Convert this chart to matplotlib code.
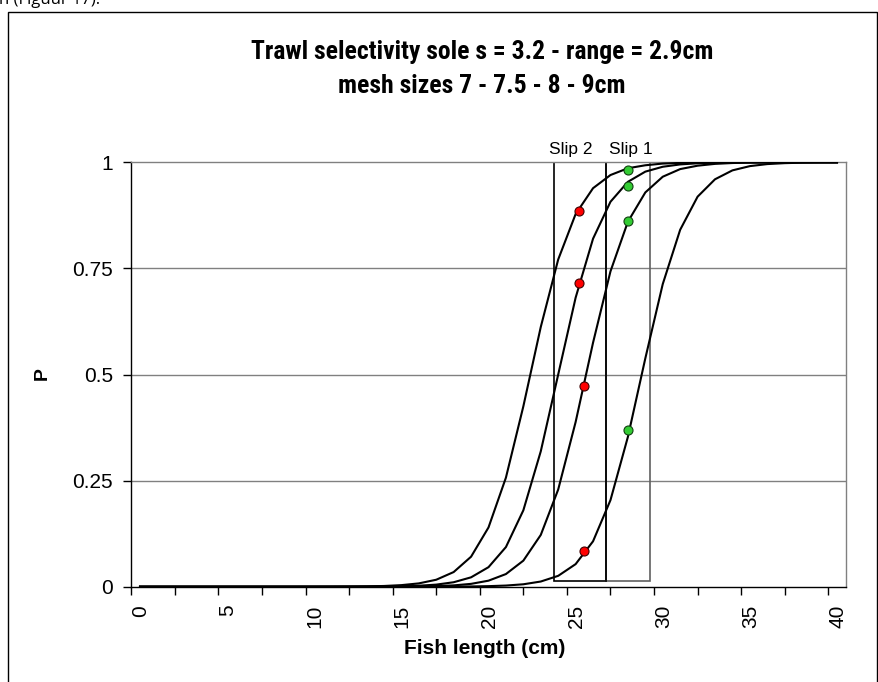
import matplotlib
matplotlib.use("Agg")
import matplotlib.pyplot as plt
from matplotlib.patches import Rectangle
from matplotlib import font_manager

plt.rcParams['font.family'] = ['Liberation Sans', 'DejaVu Sans']

# Fish length classes (cm)
lengths = list(range(0, 41))

# Retention probability per length class for each mesh size
p_mesh7 = [0.0, 0.0, 0.0, 0.0, 0.0, 0.0, 0.0, 0.0, 0.0, 0.0,
           0.0001, 0.0002, 0.0004, 0.0008, 0.0017, 0.0037, 0.0078, 0.0164, 0.0345, 0.0707,
           0.1396, 0.257, 0.425, 0.612, 0.771, 0.878, 0.939, 0.970, 0.986, 0.993,
           0.997, 0.9985, 0.9993, 0.9997, 0.9999, 1.0, 1.0, 1.0, 1.0, 1.0, 1.0]
p_mesh75 = [0.0, 0.0, 0.0, 0.0, 0.0, 0.0, 0.0, 0.0, 0.0, 0.0,
            0.0, 0.0, 0.0001, 0.0002, 0.0005, 0.0011, 0.0023, 0.0049, 0.0105, 0.0221,
            0.046, 0.0934, 0.180, 0.319, 0.5, 0.681, 0.820, 0.907, 0.954, 0.978,
            0.9895, 0.995, 0.9977, 0.9989, 0.9995, 0.9998, 0.9999, 1.0, 1.0, 1.0, 1.0]
p_mesh8 = [0.0, 0.0, 0.0, 0.0, 0.0, 0.0, 0.0, 0.0, 0.0, 0.0,
           0.0, 0.0, 0.0, 0.0, 0.0002, 0.0003, 0.0007, 0.0015, 0.0031, 0.0067,
           0.0142, 0.0298, 0.0614, 0.122, 0.229, 0.388, 0.575, 0.743, 0.860, 0.929,
           0.966, 0.984, 0.992, 0.9963, 0.9983, 0.9992, 0.9996, 0.9998, 0.9999, 1.0, 1.0]
p_mesh9 = [0.0, 0.0, 0.0, 0.0, 0.0, 0.0, 0.0, 0.0, 0.0, 0.0,
           0.0, 0.0, 0.0, 0.0, 0.0, 0.0, 0.0001, 0.0001, 0.0003, 0.0006,
           0.0013, 0.0027, 0.0057, 0.0122, 0.0256, 0.0532, 0.107, 0.204, 0.353, 0.538,
           0.713, 0.841, 0.919, 0.960, 0.981, 0.991, 0.9958, 0.998, 0.9991, 0.9996, 0.9998]
curves = [p_mesh7, p_mesh75, p_mesh8, p_mesh9]

# Slip points
slip2_x = [25.7, 25.7, 26.0, 26.0]
slip2_p = [0.886, 0.716, 0.472, 0.083]
slip1_x = [28.5, 28.5, 28.5, 28.5]
slip1_p = [0.983, 0.943, 0.862, 0.369]

# Slip boxes (length range)
slip2_range = [24.27, 27.27]
slip1_range = [27.27, 29.76]
box_p = [0.0127, 1.0]

title_lines = ["Trawl selectivity sole s = 3.2 - range = 2.9cm", "mesh sizes 7 - 7.5 - 8 - 9cm"]

W, H = 879, 682
fig = plt.figure(figsize=(W / 100, H / 100), dpi=100)
ax = fig.add_axes([131.3 / W, 1 - 586.7 / H, (845.7 - 131.3) / W, (586.7 - 162.3) / H])

# outer frame
fig.patches.append(Rectangle((8 / W, -0.05), (877 - 8) / W, 1 - 12 / H + 0.05,
                             transform=fig.transFigure, fill=False, edgecolor='black', lw=1.0))
fig.text(-1 / W, 1 - 4 / H, "n (Figuur 17).", fontsize=12, family=['Open Sans', 'DejaVu Sans'],
         ha='left', va='baseline')

for yv in [0.25, 0.5, 0.75]:
    ax.axhline(yv, color='#808080', lw=1.0, zorder=1)

xpos = [l + 0.5 for l in lengths]
for c in curves:
    ax.plot(xpos, c, color='black', lw=1.5, zorder=3)

# boxes
ax.add_patch(Rectangle((slip2_range[0], box_p[0]), slip2_range[1] - slip2_range[0], box_p[1] - box_p[0],
                       fill=False, edgecolor='black', lw=1.2, zorder=2))
ax.add_patch(Rectangle((slip1_range[0], box_p[0]), slip1_range[1] - slip1_range[0], box_p[1] - box_p[0],
                       fill=False, edgecolor='#606060', lw=1.2, zorder=2))
ax.plot([slip1_range[0], slip1_range[0]], box_p, color='black', lw=1.2, zorder=2)

ax.plot(slip2_x, slip2_p, 'o', color='#FF0000', mec='#400000', mew=0.8, ms=6.5, zorder=4)
ax.plot(slip1_x, slip1_p, 'o', color='#33CC33', mec='#104010', mew=0.8, ms=6.5, zorder=4)

ax.text(25.2, 1.0195, "Slip 2", ha='center', va='baseline', fontsize=12.5)
ax.text(28.66, 1.0195, "Slip 1", ha='center', va='baseline', fontsize=12.5)

ax.set_xlim(0, 41)
ax.set_ylim(0, 1)
ax.set_xticks([i * 2.5 for i in range(17)])
ax.set_xticklabels([str(int(i * 2.5)) if i % 2 == 0 else '' for i in range(17)],
                   rotation=90, fontsize=15, ha='left')
ax.set_yticks([0, 0.25, 0.5, 0.75, 1])
ax.set_yticklabels(['0', '0.25', '0.5', '0.75', '1'], fontsize=15)
ax.tick_params(direction='out', length=6, width=1, color='black', pad=7)

for s in ['top', 'right']:
    ax.spines[s].set_color('#808080')
for s in ['left', 'bottom']:
    ax.spines[s].set_color('black')
for s in ax.spines.values():
    s.set_linewidth(1.0)

fig.text(485 / W, 1 - 648 / H, "Fish length (cm)", ha='center', va='center',
         fontsize=15, fontweight='bold')
fig.text(42 / W, 1 - 374 / H, "P", ha='center', va='center', rotation=90,
         fontsize=14, fontweight='bold')

# Title: prefer a condensed bold face if one is installed
names = {f.name for f in font_manager.fontManager.ttflist}
tfam = ['Liberation Sans', 'DejaVu Sans']
for cand in ['Liberation Sans Narrow', 'Roboto Condensed', 'Open Sans Condensed', 'Roboto']:
    if cand in names:
        tfam = [cand, 'Liberation Sans', 'DejaVu Sans']
        break
tsize = 16
t1 = fig.text(482 / W, 1 - 52 / H, title_lines[0], ha='center', va='center',
              fontsize=tsize, fontweight='bold', family=tfam)
t2 = fig.text(482 / W, 1 - 86 / H, title_lines[1], ha='center', va='center',
              fontsize=tsize, fontweight='bold', family=tfam)
r = fig.canvas.get_renderer()
wpx = t1.get_window_extent(r).width
scale = 462.0 / wpx
t1.set_fontsize(tsize * scale)
t2.set_fontsize(tsize * scale)

fig.savefig("out.png", dpi=100)
